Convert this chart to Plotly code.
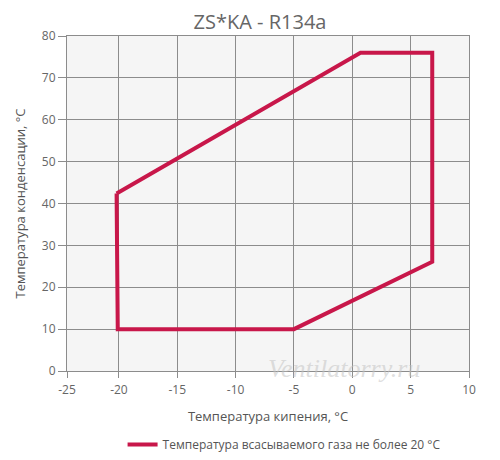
import plotly.graph_objects as go

# Envelope polygon (evaporating temp, condensing temp)
evap_temp = [-20.2, -20.1, -5.0, 6.85, 6.85, 0.7, -20.2]
cond_temp = [42.4, 10.0, 10.0, 26.1, 76.0, 76.0, 42.4]
series_name = "Температура всасываемого газа не более 20 °C"

x_tick_vals = [-24.45, -20, -15, -10, -5, 0, 5, 10]
x_tick_text = ["-25", "-20", "-15", "-10", "-5", "0", "5", "10"]
y_tick_vals = [0, 10, 20, 30, 40, 50, 60, 70, 80]

fig = go.Figure()
fig.add_trace(go.Scatter(
    x=evap_temp, y=cond_temp, mode="lines", name=series_name,
    line=dict(color="#c8174a", width=4), showlegend=True,
))

grid = "#8c8c8c"
fig.update_layout(
    width=500, height=460,
    margin=dict(l=67, r=31, t=36, b=89, autoexpand=False),
    paper_bgcolor="white", plot_bgcolor="#f5f5f5",
    font=dict(family="Open Sans", color="#666666", size=12),
    title=dict(text="ZS*KA - R134a", x=0.52, xanchor="center", y=0.952, yanchor="middle",
               font=dict(size=20, color="#666666")),
    showlegend=True,
    legend=dict(orientation="h", x=0.54, xanchor="center", y=-0.176, yanchor="top",
                font=dict(size=12, color="#555555")),
    xaxis=dict(range=[-24.45, 10], tickvals=x_tick_vals, ticktext=x_tick_text,
               showgrid=True, gridcolor=grid, gridwidth=1, zeroline=False,
               showline=True, linecolor=grid, mirror=True, automargin=False,
               ticks="outside", ticklen=6, tickcolor=grid, ticklabelstandoff=2,
               title=dict(text="Температура кипения, °C", font=dict(size=13, color="#555555"), standoff=14)),
    yaxis=dict(range=[0, 80], tickvals=y_tick_vals,
               showgrid=True, gridcolor=grid, gridwidth=1, zeroline=False,
               showline=True, linecolor=grid, mirror=True, automargin=False,
               ticks="outside", ticklen=8, tickcolor=grid,
               title=dict(text="Температура конденсации, °C", font=dict(size=13, color="#555555"), standoff=13)),
)
fig.add_annotation(text="<i>Ventilatorry.ru</i>", xref="paper", yref="paper",
                   x=0.69, y=0.0, xanchor="center", yanchor="middle", yshift=3, showarrow=False,
                   font=dict(family="Liberation Serif", size=26, color="rgba(195,195,195,0.55)"))
fig.write_html("out.html", config={"displayModeBar": False},
               post_script="document.body.style.margin='0px';")
